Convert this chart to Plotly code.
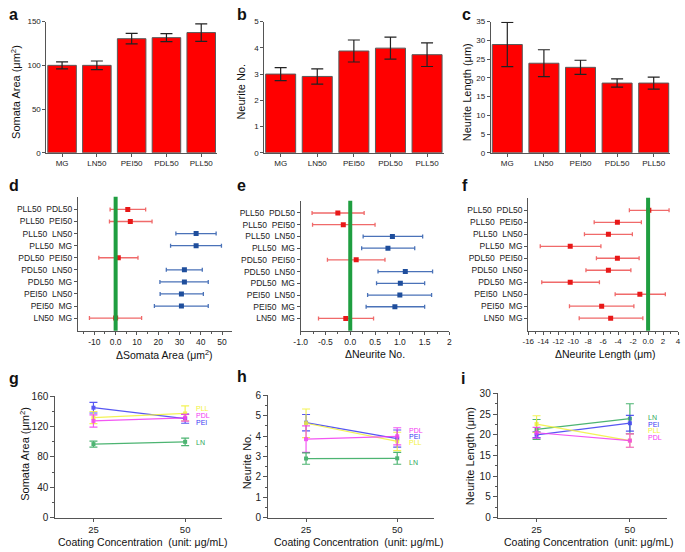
import plotly.graph_objects as go

# ---------------- data ----------------
cats = ["MG", "LN50", "PEI50", "PDL50", "PLL50"]
soma_mean = [100, 100, 130.5, 131.7, 137.5]
soma_sem = [4, 5, 6, 4.5, 10]
nn_mean = [3.0, 2.91, 3.88, 3.99, 3.74]
nn_sem = [0.25, 0.29, 0.42, 0.42, 0.45]
nl_mean = [28.9, 23.9, 22.8, 18.6, 18.6]
nl_sem = [5.9, 3.6, 1.9, 1.1, 1.6]

# pairwise comparisons, bottom to top
pairs = ["LN50  MG", "PEI50  MG", "PEI50  LN50", "PDL50  MG", "PDL50  LN50",
         "PDL50  PEI50", "PLL50  MG", "PLL50  LN50", "PLL50  PEI50", "PLL50  PDL50"]
d_diff = [0, 30.9, 30.9, 32.3, 32.3, 1.25, 37.8, 37.8, 6.9, 5.7]
d_low = [-12.3, 18.2, 20.9, 20.8, 23.8, -7.9, 25.8, 28.3, -2.9, -2.6]
d_high = [12.2, 43.5, 41.2, 43.5, 40.7, 10.5, 49.7, 47.2, 17.1, 14.1]
d_sig = [False, True, True, True, True, False, True, True, False, False]
d_ticks = [-10, 0, 10, 20, 30, 40, 50]

e_diff = [-0.09, 0.90, 1.00, 1.01, 1.11, 0.12, 0.76, 0.85, -0.14, -0.25]
e_low = [-0.64, 0.32, 0.35, 0.53, 0.56, -0.46, 0.23, 0.26, -0.76, -0.77]
e_high = [0.47, 1.50, 1.64, 1.50, 1.66, 0.70, 1.30, 1.46, 0.50, 0.28]
e_sig = [False, True, True, True, True, False, True, True, False, False]
e_ticks = [-1.0, -0.5, 0.0, 0.5, 1.0, 1.5, 2.0]

f_diff = [-5.0, -6.2, -1.1, -10.4, -5.3, -4.1, -10.4, -5.3, -4.1, 0.1]
f_low = [-9.2, -10.5, -4.4, -14.2, -8.3, -6.9, -14.4, -8.5, -7.2, -2.5]
f_high = [-0.7, -1.9, 2.3, -6.5, -2.3, -1.2, -6.3, -2.1, -0.9, 2.8]
f_sig = [False] * 10
f_ticks = [-16, -14, -12, -10, -8, -6, -4, -2, 0, 2, 4]

conc = [25, 50]
g_series = {
    "PEI": ([145, 130.5], [7, 6]),
    "PLL": ([132, 137.5], [8, 10]),
    "PDL": ([127.5, 131.7], [8, 4.5]),
    "LN": ([97, 100], [4, 5]),
}
h_series = {
    "PEI": ([4.66, 3.88], [0.4, 0.42]),
    "PLL": ([4.63, 3.74], [0.7, 0.45]),
    "PDL": ([3.85, 3.99], [0.65, 0.42]),
    "LN": ([2.9, 2.91], [0.28, 0.29]),
}
i_series = {
    "LN": ([21.3, 23.9], [2.4, 3.6]),
    "PEI": ([20.0, 22.8], [0.7, 1.9]),
    "PLL": ([22.6, 18.6], [2.0, 1.6]),
    "PDL": ([20.5, 18.6], [1.3, 1.6]),
}

# ---------------- styling ----------------
W, H = 685, 552
FONT = "Liberation Sans, Arial, sans-serif"
AX = "#555555"
series_color = {"PEI": "#3a3af2", "PLL": "#f2f23a", "PDL": "#f23af2", "LN": "#2ea85a"}
label_shift = {
    "g": {"PLL": 5, "PDL": 2, "PEI": -4, "LN": -1},
    "h": {"PDL": 6, "PEI": 2, "PLL": -1, "LN": -4},
    "i": {"LN": 1, "PEI": -1, "PLL": 10, "PDL": 3},
}


def dx(a, b):
    return [a / W, b / W]


def dy(top, bottom):
    return [1 - bottom / H, 1 - top / H]


def fmt(v):
    s = ("%g" % v) if float(v).is_integer() and abs(v) >= 2 else ("%.1f" % v)
    return s.replace("\u2212", "-")


fig = go.Figure()
layout = {}


def axname(n, kind):
    return kind + ("axis" if n == 1 else "axis%d" % n)


def ref(n, kind):
    return kind + ("" if n == 1 else str(n))


# ---------- row 1: bar charts ----------
bar_specs = [
    (1, soma_mean, soma_sem, [0, 150], [0, 50, 100, 150], (40, 213)),
    (2, nn_mean, nn_sem, [0, 5], [0, 1, 2, 3, 4, 5], (261, 443)),
    (3, nl_mean, nl_sem, [0, 35], [0, 5, 10, 15, 20, 25, 30, 35], (491, 673)),
]
for n, mean, sem, yr, yt, (x0, x1) in bar_specs:
    fig.add_trace(go.Bar(
        x=cats, y=mean, width=0.82,
        marker=dict(color="#ff0000", line=dict(color="#5a5a5a", width=1)),
        error_y=dict(type="data", array=sem, color="#222222", thickness=1.2, width=6),
        xaxis=ref(n, "x"), yaxis=ref(n, "y"), showlegend=False))
    layout[axname(n, "x")] = dict(
        domain=dx(x0, x1), anchor=ref(n, "y"), range=[-0.45, 4.45], tickangle=0,
        showline=True, linecolor=AX, linewidth=1, ticks="outside", ticklen=3,
        tickcolor=AX, tickfont=dict(size=8, color="#222", family=FONT), showgrid=False)
    layout[axname(n, "y")] = dict(
        domain=dy(16, 150), anchor=ref(n, "x"), range=yr, tickvals=yt,
        showline=True, linecolor=AX, linewidth=1, ticks="outside", ticklen=3,
        tickcolor=AX, tickfont=dict(size=8, color="#222", family=FONT),
        showgrid=False, zeroline=False)

# ---------- row 2: pairwise CI plots ----------
ci_specs = [
    (4, d_diff, d_low, d_high, d_sig, [-17.7, 54.5], d_ticks, 5, (72, 228), (195, 332), 8.5),
    (5, e_diff, e_low, e_high, e_sig, [-1.0, 2.0], e_ticks, 0.25, (298, 449), (199, 332), 8.5),
    (6, f_diff, f_low, f_high, f_sig, [-16, 4], f_ticks, 1, (529, 681), (196, 332), 8),
]
ypos = list(range(len(pairs)))
for n, diff, low, high, sig, xr, xt, mdt, (x0, x1), (y0, y1), fs in ci_specs:
    for flag, lc, mc in [(False, "#f06a6a", "#e81818"), (True, "#4a72b8", "#1f4e9c")]:
        idx = [k for k in range(len(pairs)) if sig[k] == flag]
        if not idx:
            continue
        fig.add_trace(go.Scatter(
            x=[diff[k] for k in idx], y=[ypos[k] for k in idx], mode="markers",
            marker=dict(symbol="square", size=5, color=mc),
            error_x=dict(type="data", symmetric=False,
                         array=[high[k] - diff[k] for k in idx],
                         arrayminus=[diff[k] - low[k] for k in idx],
                         color=lc, thickness=1.3, width=2),
            xaxis=ref(n, "x"), yaxis=ref(n, "y"), showlegend=False))
    layout[axname(n, "x")] = dict(
        domain=dx(x0, x1), anchor=ref(n, "y"), range=xr, tickangle=0,
        tickvals=xt, ticktext=[fmt(v) for v in xt],
        showline=True, linecolor=AX, linewidth=1, ticks="outside", ticklen=3,
        tickcolor=AX, tickfont=dict(size=fs, color="#222", family=FONT),
        minor=dict(dtick=mdt, ticks="outside", ticklen=2, tickcolor=AX),
        showgrid=False, zeroline=False)
    layout[axname(n, "y")] = dict(
        domain=dy(y0, y1), anchor=ref(n, "x"), range=[-1.05, 10.05],
        tickvals=ypos, ticktext=[p.replace(" ", "\u00a0") for p in pairs],
        showline=True, linecolor=AX, linewidth=1, ticks="outside", ticklen=3,
        tickcolor=AX, tickfont=dict(size=8.5, color="#222", family=FONT),
        showgrid=False, zeroline=False)
    fig.add_shape(type="line", xref=ref(n, "x"), yref=ref(n, "y") + " domain",
                  x0=0, x1=0, y0=0, y1=1, line=dict(color="#1f9e40", width=4), layer="above")

# ---------- row 3: concentration line plots ----------
line_specs = [
    ("g", 7, g_series, [0, 160], 40, 20, (49, 218), (399, 523), 190),
    ("h", 8, h_series, [0, 6], 1, 0.5, (265, 433), (398, 523), 406),
    ("i", 9, i_series, [0, 30], 5, 2.5, (498, 670), (396, 523), 648),
]
for key, n, series, yr, dt, mdt, (x0, x1), (y0, y1), lab_x in line_specs:
    for name, (vals, errs) in series.items():
        col = series_color[name]
        fig.add_trace(go.Scatter(
            x=conc, y=vals, mode="lines+markers",
            line=dict(color=col, width=1.2), opacity=0.85,
            marker=dict(symbol="square", size=4, color=col),
            error_y=dict(type="data", array=errs, color=col, thickness=1.2, width=4),
            xaxis=ref(n, "x"), yaxis=ref(n, "y"), showlegend=False))
        layout.setdefault("annotations", []).append(dict(
            text=name, x=lab_x / W, xref="paper", xanchor="left",
            y=vals[-1], yref=ref(n, "y"), yshift=label_shift[key][name],
            showarrow=False, font=dict(size=7, color=col, family=FONT)))
    layout[axname(n, "x")] = dict(
        domain=dx(x0, x1), anchor=ref(n, "y"), range=[14.6, 60], tickangle=0,
        tickvals=conc, showline=True, linecolor=AX, linewidth=1, ticks="outside",
        ticklen=3, tickcolor=AX, tickfont=dict(size=9.5, color="#222", family=FONT),
        showgrid=False, zeroline=False)
    layout[axname(n, "y")] = dict(
        domain=dy(y0, y1), anchor=ref(n, "x"), range=yr, dtick=dt,
        showline=True, linecolor=AX, linewidth=1, ticks="outside", ticklen=4,
        tickcolor=AX, tickfont=dict(size=10, color="#222", family=FONT),
        minor=dict(dtick=mdt, ticks="outside", ticklen=2, tickcolor=AX),
        showgrid=False, zeroline=False)

# ---------- titles & panel letters ----------
ann = layout.setdefault("annotations", [])


def text(t, x, y, size=11, angle=0, bold=False):
    ann.append(dict(text=("<b>%s</b>" % t) if bold else t, x=x / W, y=1 - y / H,
                    xref="paper", yref="paper", showarrow=False, textangle=angle,
                    xanchor="center", yanchor="middle",
                    font=dict(size=size, color="#111", family=FONT)))


for letter, x, y in [("a", 7, 9), ("b", 238, 9), ("c", 466, 9),
                     ("d", 7, 184), ("e", 238, 184), ("f", 465, 184),
                     ("g", 7, 381), ("h", 238, 379), ("i", 463, 381)]:
    text(letter, x, y, size=16, bold=True)

text("Somata Area (μm<sup>2</sup>)", 9, 88, angle=-90)
text("Neurite No.", 238, 88, angle=-90)
text("Neurite Length (μm)", 467, 88, angle=-90)
text("ΔSomata Area (μm<sup>2</sup>)", 160, 356, size=10.5)
text("ΔNeurite No.", 373, 356, size=10.5)
text("ΔNeurite Length (μm)", 607, 356, size=10.5)
text("Somata Area (μm<sup>2</sup>)", 18, 458, angle=-90)
text("Neurite No.", 243, 465, angle=-90)
text("Neurite Length (μm)", 470, 460, angle=-90)
for cx in (138, 357, 590):
    text("Coating Concentration  (unit: μg/mL)", cx, 548, size=10.5)

fig.update_layout(
    width=W, height=H, margin=dict(l=0, r=0, t=0, b=0),
    paper_bgcolor="white", plot_bgcolor="white", bargap=0.18,
    font=dict(family=FONT), **layout)

fig.write_html("out.html", config={"displayModeBar": False},
               post_script="document.body.style.margin='0px';")
